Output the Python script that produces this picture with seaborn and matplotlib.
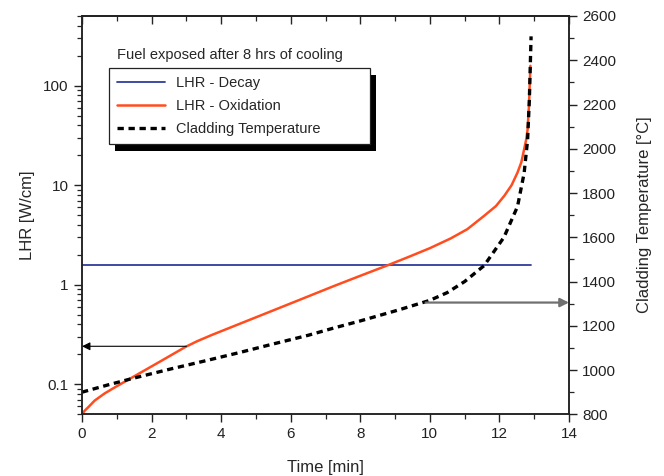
import matplotlib
matplotlib.use("Agg")
import matplotlib.pyplot as plt
import matplotlib.ticker as mticker
from matplotlib.patches import Rectangle
from matplotlib.transforms import IdentityTransform
import seaborn as sns
import pandas as pd

# ---- data ----
t_decay = [0.0, 12.91]
lhr_decay = [1.58, 1.58]

t_ox = [0.0, 0.08, 0.18, 0.365, 0.65, 0.95, 1.53, 2.29, 2.96, 3.3, 3.73, 4.5, 5.32, 6.2,
        7.24, 8.0, 8.82, 9.4, 10.0, 10.6, 11.08, 11.56, 11.9, 12.14, 12.35, 12.52, 12.63,
        12.71, 12.77, 12.81, 12.85, 12.89]
lhr_ox = [0.0501, 0.0545, 0.0589, 0.0687, 0.081, 0.0935, 0.122, 0.173, 0.236, 0.270,
          0.313, 0.401, 0.522, 0.693, 0.970, 1.23, 1.585, 1.91, 2.33, 2.92, 3.62, 4.92,
          6.17, 7.82, 10.0, 13.4, 17.0, 22.9, 28.8, 36.3, 63.1, 158.0]

t_temp = [0.0, 0.75, 1.5, 2.5, 3.5, 4.5, 5.5, 6.5, 7.24, 8.0, 9.11, 10.0, 10.5, 11.0,
          11.56, 12.13, 12.52, 12.71, 12.81, 12.86, 12.91]
clad_temp = [900, 933, 964, 1003, 1040, 1078, 1118, 1157, 1190, 1222, 1272, 1315, 1350,
             1400, 1472, 1600, 1739, 1890, 2041, 2220, 2508]

x_ticks = [0, 2, 4, 6, 8, 10, 12, 14]
left_ticks = [0.1, 1, 10, 100]
left_ticklabels = ["0.1", "1", "10", "100"]
right_ticks = [800, 1000, 1200, 1400, 1600, 1800, 2000, 2200, 2400, 2600]

legend_title = "Fuel exposed after 8 hrs of cooling"
lab_decay = "LHR - Decay"
lab_ox = "LHR - Oxidation"
lab_temp = "Cladding Temperature"

# ---- style ----
sns.set_theme(style="ticks")
plt.rcParams["font.family"] = ["Liberation Sans", "DejaVu Sans"]
plt.rcParams["axes.linewidth"] = 1.1

BLUE = "#2f3c9c"
ORANGE = "#ff4d1f"

fig = plt.figure(figsize=(6.64, 4.76), dpi=100)
ax = fig.add_axes([82 / 664, 1 - 414.3 / 476, (569 - 82) / 664, (414.3 - 16) / 476])
ax2 = ax.twinx()

df_decay = pd.DataFrame({"t": t_decay, "v": lhr_decay})
df_ox = pd.DataFrame({"t": t_ox, "v": lhr_ox})
df_temp = pd.DataFrame({"t": t_temp, "v": clad_temp})

sns.lineplot(data=df_decay, x="t", y="v", ax=ax, color=BLUE, lw=1.3, label=lab_decay, legend=False)
sns.lineplot(data=df_ox, x="t", y="v", ax=ax, color=ORANGE, lw=1.8, label=lab_ox, legend=False)
sns.lineplot(data=df_temp, x="t", y="v", ax=ax2, color="black", lw=2.4,
             linestyle=(0, (1.9, 1.4)), label=lab_temp, legend=False)

ax.set_yscale("log")
ax.set_ylim(0.05, 500)
ax.set_xlim(0, 14)
ax2.set_ylim(800, 2600)

ax.set_xticks(x_ticks)
ax.set_xticklabels([str(v) for v in x_ticks])
ax.xaxis.set_minor_locator(mticker.MultipleLocator(1))
ax.set_yticks(left_ticks)
ax.set_yticklabels(left_ticklabels)
ax.yaxis.set_minor_locator(mticker.LogLocator(base=10, subs=range(2, 10)))
ax.yaxis.set_minor_formatter(mticker.NullFormatter())
ax2.set_yticks(right_ticks)
ax2.set_yticklabels([str(v) for v in right_ticks])
ax2.yaxis.set_minor_locator(mticker.MultipleLocator(100))

for a in (ax, ax2):
    a.tick_params(which="major", length=6, width=1.0, direction="out", labelsize=11, colors="#222222")
    a.tick_params(which="minor", length=3.5, width=0.9, direction="out")
    for s in a.spines.values():
        s.set_color("#222222")

sec = ax.secondary_xaxis("top")
sec.set_xticks(x_ticks)
sec.xaxis.set_minor_locator(mticker.MultipleLocator(1))
sec.tick_params(which="major", direction="in", length=6, width=1.0, labeltop=False)
sec.tick_params(which="minor", direction="in", length=3.5, width=0.9)

ax.set_xlabel("Time [min]", fontsize=12, labelpad=13)
ax.set_ylabel("LHR [W/cm]", fontsize=12, labelpad=6)
ax2.set_ylabel("Cladding Temperature [°C]", fontsize=12, labelpad=15)
ax.grid(False)
ax2.grid(False)

# arrows
ax.annotate("", xy=(0, 0.241), xytext=(3.0, 0.241),
            arrowprops=dict(arrowstyle="-|>", color="black", lw=0.8, mutation_scale=12,
                            shrinkA=0, shrinkB=0))
ax2.annotate("", xy=(14, 1305), xytext=(9.88, 1305),
             arrowprops=dict(arrowstyle="-|>", color="#707070", lw=1.6, mutation_scale=13,
                             shrinkA=0, shrinkB=0), annotation_clip=False)

# legend
h1, l1 = ax.get_legend_handles_labels()
h2, l2 = ax2.get_legend_handles_labels()
x0 = (109 - 82) / 487
y_top = (414.3 - 68.3) / 398.3
w = (370 - 109) / 487
leg = ax2.legend(h1 + h2, l1 + l2, loc="upper left",
                 bbox_to_anchor=(x0, y_top - 0.3, w, 0.3), mode="expand",
                 borderaxespad=0, fontsize=10.5, frameon=True, fancybox=False,
                 edgecolor="#222222", framealpha=1, handlelength=3.3, handletextpad=0.8,
                 labelspacing=0.62, borderpad=0.52)
leg.get_frame().set_linewidth(0.9)
leg.set_zorder(10)

ax.text((117 - 82) / 487, (414.3 - 55) / 398.3, legend_title, transform=ax.transAxes,
        fontsize=10.5, va="center", ha="left")

fig.canvas.draw()
bb = leg.get_window_extent()
shadow = Rectangle((bb.x0 + 6, bb.y0 - 7), bb.width, bb.height, transform=IdentityTransform(),
                   facecolor="black", edgecolor="none", zorder=9.5, clip_on=False)
ax2.add_artist(shadow)

fig.savefig("out.png", dpi=100)
